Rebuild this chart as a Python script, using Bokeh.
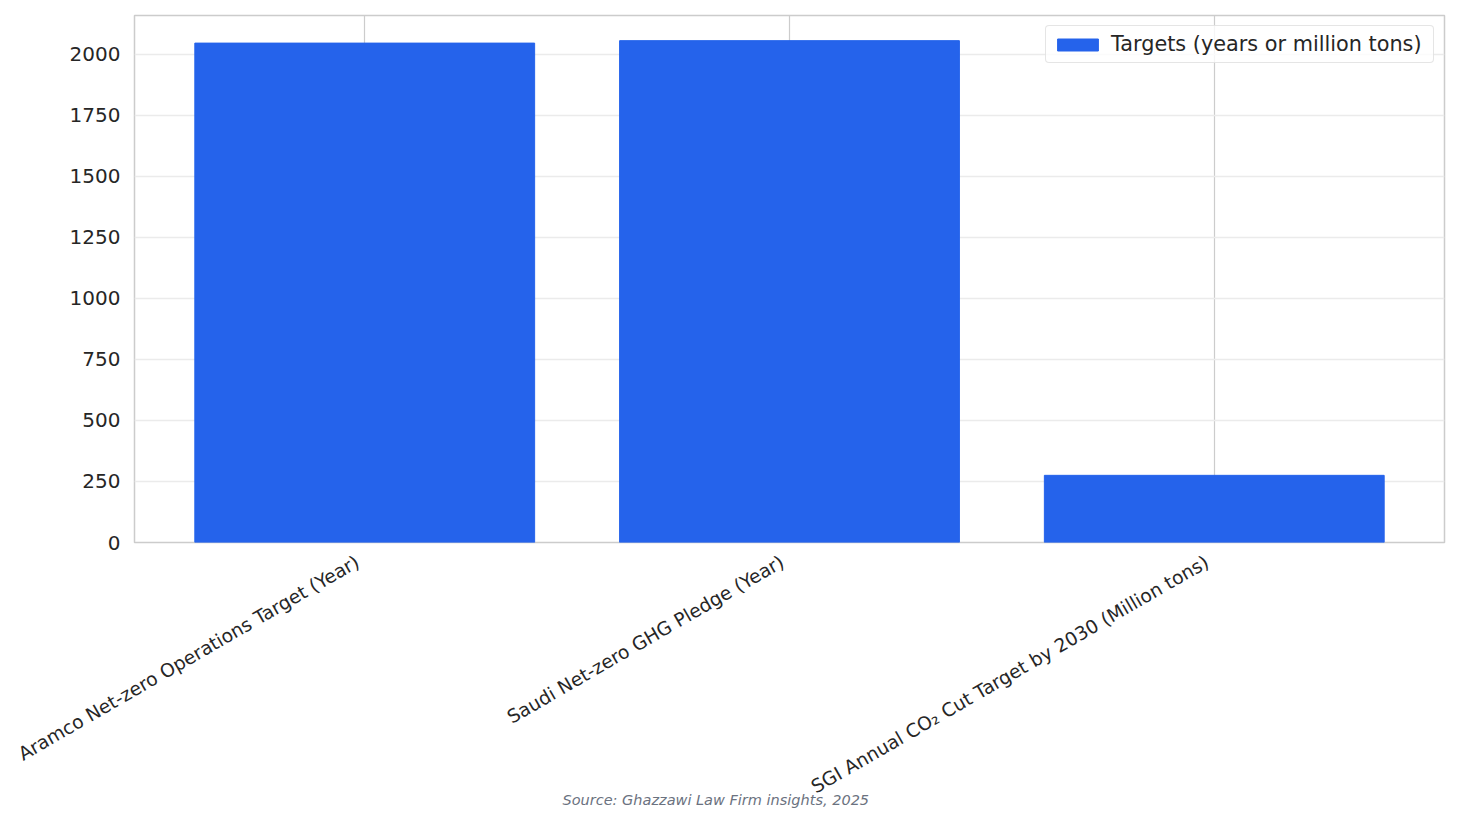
from math import pi
from bokeh.plotting import figure
from bokeh.models import Range1d, FixedTicker, Title, ColumnDataSource
from bokeh.embed import file_html
from bokeh.resources import INLINE

categories = [
    "Aramco Net-zero Operations Target (Year)",
    "Saudi Net-zero GHG Pledge (Year)",
    "SGI Annual CO\u2082 Cut Target by 2030 (Million tons)",
]
values = [2045, 2055, 275]
y_ticks = [0, 250, 500, 750, 1000, 1250, 1500, 1750, 2000]
series_name = "Targets (years or million tons)"
source_note = "Source: Ghazzawi Law Firm insights, 2025"

FONT = "DejaVu Sans"
TEXT = "#262626"

xs = list(range(len(categories)))
src = ColumnDataSource(dict(x=xs, top=values))

p = figure(width=1458, height=824, output_backend="svg", toolbar_location=None,
           x_range=Range1d(-0.542, 2.542), y_range=Range1d(0, 2158),
           min_border_left=134, min_border_right=14, min_border_top=15,
           min_border_bottom=282)
p.background_fill_color = "white"
p.border_fill_color = "white"
p.outline_line_color = "#cccccc"
p.outline_line_width = 1.5

p.vbar(x="x", top="top", width=0.8, source=src, color="#2563eb",
       legend_label=series_name)

# axes: labels anchored slightly left of the bar centres (like right-aligned rotated text)
label_shift = -0.017
label_pos = [x + label_shift for x in xs]
p.xaxis.ticker = FixedTicker(ticks=label_pos)
p.xaxis.major_label_overrides = {pos: c for pos, c in zip(label_pos, categories)}
p.xaxis.major_label_orientation = pi / 6
p.xaxis.major_label_text_font = FONT
p.xaxis.major_label_text_font_size = "18.7px"
p.xaxis.major_label_text_color = TEXT
p.xaxis.major_label_standoff = 12
p.xgrid.ticker = FixedTicker(ticks=xs)
p.yaxis.ticker = FixedTicker(ticks=y_ticks)
p.yaxis.major_label_text_font = FONT
p.yaxis.major_label_text_font_size = "20px"
p.yaxis.major_label_text_color = TEXT
p.yaxis.major_label_standoff = 8
for ax in (p.xaxis, p.yaxis):
    ax.axis_line_color = None
    ax.major_tick_line_color = None
    ax.minor_tick_line_color = None

# grids
p.xgrid.grid_line_color = "#cccccc"
p.xgrid.grid_line_width = 1.2
p.ygrid.grid_line_color = "#ebebeb"
p.ygrid.grid_line_width = 1.5

# legend
lg = p.legend[0]
lg.location = "top_right"
lg.margin = 10
lg.padding = 6
lg.spacing = 0
lg.label_text_font = FONT
lg.label_text_font_size = "20.8px"
lg.label_text_color = TEXT
lg.glyph_width = 51
lg.glyph_height = 15
lg.label_standoff = 8
lg.label_width = 316
lg.border_line_color = "#cccccc"
lg.border_line_width = 1.5
lg.background_fill_color = "white"
lg.background_fill_alpha = 0.8
try:
    lg.border_radius = 4
except Exception:
    pass

note = Title(text=source_note, align="left", offset=428, standoff=-36,
             vertical_align="top",
             text_font=FONT, text_font_size="14.5px", text_font_style="italic",
             text_color="#6b7280")
p.add_layout(note, "below")

open("out.html", "w").write(file_html(p, INLINE))
